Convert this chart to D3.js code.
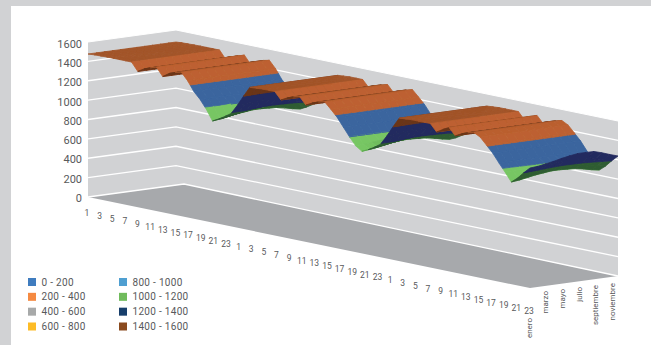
<!DOCTYPE html>
<html lang="es">
<head>
<meta charset="utf-8">
<title>Superficie</title>
<script src="https://cdn.jsdelivr.net/npm/d3@7"></script>
<style>
    body { margin: 0; background: #fff; }
    svg { display: block; }
    text { font-family: Roboto, sans-serif; fill: #58595b; }
</style>
</head>
<body>
<svg id="chart"></svg>
<script>
const hourLabels = ["1","3","5","7","9","11","13","15","17","19","21","23",
                    "1","3","5","7","9","11","13","15","17","19","21","23",
                    "1","3","5","7","9","11","13","15","17","19","21","23"];
const monthLabels = ["enero","marzo","mayo","julio","septiembre","noviembre"];
const valueTicks = [0,200,400,600,800,1000,1200,1400,1600];

const bands = ["0 - 200","200 - 400","400 - 600","600 - 800","800 - 1000","1000 - 1200","1200 - 1400","1400 - 1600"];
const bandColors = ["#3f7cbf","#f58a42","#a7a9a9","#fdbc26","#4f9fd1","#70bb5c","#173e6b","#8a4a1e"];

// meseta de cada dia, igual todos los meses
const crest1 = [1505,1510,1512,1514,1515,1515,1515,1515,1430,1470,1495,1515,1430,1475,1500,1515,1440,1340,1270];
const crest2 = [1505,1510,1515,1515,1515,1440,1475,1500,1515,1440,1475,1500,1515,1450,1380,1290,1200];
const crest3 = [1505,1510,1515,1515,1515,1515,1440,1480,1515,1440,1475,1500,1515,1480,1410,1340,1250];

// tramo del valle, una fila por mes (enero..diciembre)
const valley1 = [
    [1180,1070,1105,1145,1190,1290,1400],
    [1185,1080,1115,1153,1196,1294,1403],
    [1192,1095,1130,1165,1205,1300,1408],
    [1200,1110,1145,1177,1214,1306,1412],
    [1205,1120,1155,1185,1220,1310,1415],
    [1210,1130,1165,1193,1226,1314,1418],
    [1210,1130,1165,1193,1226,1314,1418],
    [1207,1125,1160,1189,1223,1312,1416],
    [1205,1120,1155,1185,1220,1310,1415],
    [1197,1105,1140,1173,1211,1304,1410],
    [1187,1085,1120,1157,1199,1296,1404],
    [1180,1070,1105,1145,1190,1290,1400]
];
const valley2 = [
    [1120,1075,1105,1145,1190,1290,1400],
    [1125,1085,1115,1153,1196,1294,1403],
    [1132,1100,1130,1165,1205,1300,1408],
    [1140,1115,1145,1177,1214,1306,1412],
    [1145,1125,1155,1185,1220,1310,1415],
    [1150,1135,1165,1193,1226,1314,1418],
    [1150,1135,1165,1193,1226,1314,1418],
    [1147,1130,1160,1189,1223,1312,1416],
    [1145,1125,1155,1185,1220,1310,1415],
    [1137,1110,1140,1173,1211,1304,1410],
    [1127,1090,1120,1157,1199,1296,1404],
    [1120,1075,1105,1145,1190,1290,1400]
];
const valley3 = [
    [1165,1075,1130,1200,1263],
    [1170,1085,1140,1208,1270],
    [1177,1100,1155,1220,1285],
    [1185,1115,1170,1235,1300],
    [1190,1125,1180,1250,1320],
    [1195,1135,1190,1265,1335],
    [1195,1135,1195,1275,1347],
    [1192,1130,1190,1275,1347],
    [1190,1125,1185,1270,1345],
    [1182,1110,1165,1245,1320],
    [1172,1090,1145,1220,1290],
    [1165,1075,1130,1200,1263]
];

const grid = valley1.map((_, j) => [
    ...crest1, ...valley1[j], ...crest2, ...valley2[j], ...crest3, ...valley3[j]
]);

const width = 651, height = 345;
const svg = d3.select("#chart").attr("width", width).attr("height", height);

// suaviza la superficie, el original esta algo borroso
svg.append("defs").append("filter")
    .attr("id", "soft")
    .append("feGaussianBlur")
    .attr("stdDeviation", 0.55);

svg.append("rect").attr("width", width).attr("height", height).attr("fill", "#d1d2d4");
svg.append("rect").attr("x", 11).attr("y", 6).attr("width", width - 11).attr("height", height - 6).attr("fill", "#fff");

// caja 3D
const origin = { x: 88, y: 197 };
const hourX = d3.scaleLinear().domain([0, 71]).range([0, 442]);
const hourY = d3.scaleLinear().domain([0, 71]).range([0, 91]);
const monthX = d3.scaleLinear().domain([0, 11]).range([0, 88]);
const monthY = d3.scaleLinear().domain([0, 11]).range([0, -12]);
const valueH = d3.scaleLinear().domain([0, 1600]).range([0, 152]);

function project(i, j, v) {
    return [
        origin.x + hourX(i) + monthX(j),
        origin.y + hourY(i) + monthY(j) - valueH(v)
    ];
}

const wallLeft = d3.scaleLinear().domain([0, 1600]).range([197, 42]);
const wallKink = d3.scaleLinear().domain([0, 1600]).range([185, 30]);
const wallRight = d3.scaleLinear().domain([0, 1600]).range([276, 121]);
const line = d3.line();

svg.append("path")
    .attr("d", line([[88, 42], [176, 30], [618, 121], [618, 276], [184, 184], [88, 197]]) + "Z")
    .attr("fill", "#d1d2d4");

svg.append("path")
    .attr("d", line([[88, 197], [184, 184], [618, 276], [530, 288]]) + "Z")
    .attr("fill", "#a7a9ac");

svg.selectAll(".grid")
    .data(valueTicks.slice(1, -1))
    .enter().append("path")
    .attr("class", "grid")
    .attr("d", d => line([[88, wallLeft(d)], [176, wallKink(d)], [618, wallRight(d)]]))
    .attr("fill", "none")
    .attr("stroke", "#fff")
    .attr("stroke-width", 1.3);

svg.append("path")
    .attr("d", line([[88, 197], [184, 184], [618, 276]]))
    .attr("fill", "none")
    .attr("stroke", "#fff")
    .attr("stroke-width", 1.3);

svg.append("path")
    .attr("d", line([[88, 42], [176, 30], [618, 121]]))
    .attr("fill", "none")
    .attr("stroke", "#fff")
    .attr("stroke-width", 1);

// colores de la superficie: debajo, plano, iluminado
const surfaceBands = [
    { lo: 1000, hi: 1200, under: "#2f5c32", flat: "#5aa84e", lit: "#77c663" },
    { lo: 1200, hi: 1400, under: "#232a5e", flat: "#2f5288", lit: "#3a659e" },
    { lo: 1400, hi: 1600, under: "#6b3519", flat: "#a25429", lit: "#bd6130" }
];

function clipBand(poly, lo, hi) {
    const clip = (pts, inside, level) => {
        const out = [];
        pts.forEach((p, k) => {
            const q = pts[(k + 1) % pts.length];
            if (inside(p[2])) out.push(p);
            if (inside(p[2]) !== inside(q[2])) {
                const t = (level - p[2]) / (q[2] - p[2]);
                out.push([p[0] + (q[0] - p[0]) * t, p[1] + (q[1] - p[1]) * t, level]);
            }
        });
        return out;
    };
    const a = clip(poly, v => v >= lo, lo);
    return a.length ? clip(a, v => v <= hi, hi) : a;
}

const surface = svg.append("g").attr("filter", "url(#soft)");
const nHours = grid[0].length;

for (let j = grid.length - 2; j >= 0; j--) {
    for (let i = 0; i < nHours - 1; i++) {
        const quad = [
            [i, j, grid[j][i]],
            [i + 1, j, grid[j][i + 1]],
            [i + 1, j + 1, grid[j + 1][i + 1]],
            [i, j + 1, grid[j + 1][i]]
        ];
        const slope = ((grid[j][i + 1] - grid[j][i]) + (grid[j + 1][i + 1] - grid[j + 1][i])) / 2;
        const screen = quad.map(p => project(p[0], p[1], p[2]));
        // d3.polygonArea es positivo cuando se ve la cara de arriba
        const isUnder = d3.polygonArea(screen) < 0;
        const t = Math.max(0, Math.min(1, -slope / 40));

        surfaceBands.forEach(b => {
            const poly = clipBand(quad, b.lo, b.hi);
            if (poly.length < 3) return;
            const color = isUnder ? b.under : d3.interpolateRgb(b.flat, b.lit)(t);
            surface.append("path")
                .attr("d", line(poly.map(p => project(p[0], p[1], p[2]))) + "Z")
                .attr("fill", color)
                .attr("stroke", color)
                .attr("stroke-width", 0.8);
        });
    }
}

// etiquetas de valor
const labelY = d3.scaleLinear().domain([0, 1600]).range([198, 44]);
svg.selectAll(".tick-y")
    .data(valueTicks)
    .enter().append("text")
    .attr("x", 82)
    .attr("y", d => labelY(d))
    .attr("dy", ".35em")
    .attr("text-anchor", "end")
    .attr("font-size", 11)
    .text(d => d);

// etiquetas de hora
const labelHourX = d3.scaleLinear().domain([0, 35]).range([87, 529]);
const labelHourY = d3.scaleLinear().domain([0, 35]).range([213, 311]);
svg.selectAll(".tick-h")
    .data(hourLabels)
    .enter().append("text")
    .attr("x", (d, k) => labelHourX(k))
    .attr("y", (d, k) => labelHourY(k))
    .attr("dy", ".35em")
    .attr("text-anchor", "middle")
    .attr("font-size", 8.5)
    .text(d => d);

// etiquetas de mes
const labelMonthX = d3.scaleLinear().domain([0, 5]).range([529, 612]);
const labelMonthTop = d3.scaleLinear().domain([0, 5]).range([293, 283]);
svg.selectAll(".tick-m")
    .data(monthLabels)
    .enter().append("text")
    .attr("transform", (d, k) => {
        const top = k === 0 ? 318 : labelMonthTop(k);
        return `translate(${labelMonthX(k)},${top}) rotate(-90)`;
    })
    .attr("dy", ".35em")
    .attr("text-anchor", "end")
    .attr("font-size", 8)
    .text(d => d);

// leyenda
const legendX = d3.scaleOrdinal().domain([0, 1]).range([28, 119]);
const legendY = d3.scaleLinear().domain([0, 3]).range([282, 326.5]);
const legend = svg.selectAll(".legend")
    .data(bands)
    .enter().append("g")
    .attr("transform", (d, k) => `translate(${legendX(Math.floor(k / 4))},${legendY(k % 4)})`);

legend.append("rect")
    .attr("y", -4)
    .attr("width", 8)
    .attr("height", 8)
    .attr("fill", (d, k) => bandColors[k]);

legend.append("text")
    .attr("x", 13.5)
    .attr("dy", ".35em")
    .attr("font-size", 10)
    .attr("letter-spacing", 0.3)
    .text(d => d);
</script>
</body>
</html>
